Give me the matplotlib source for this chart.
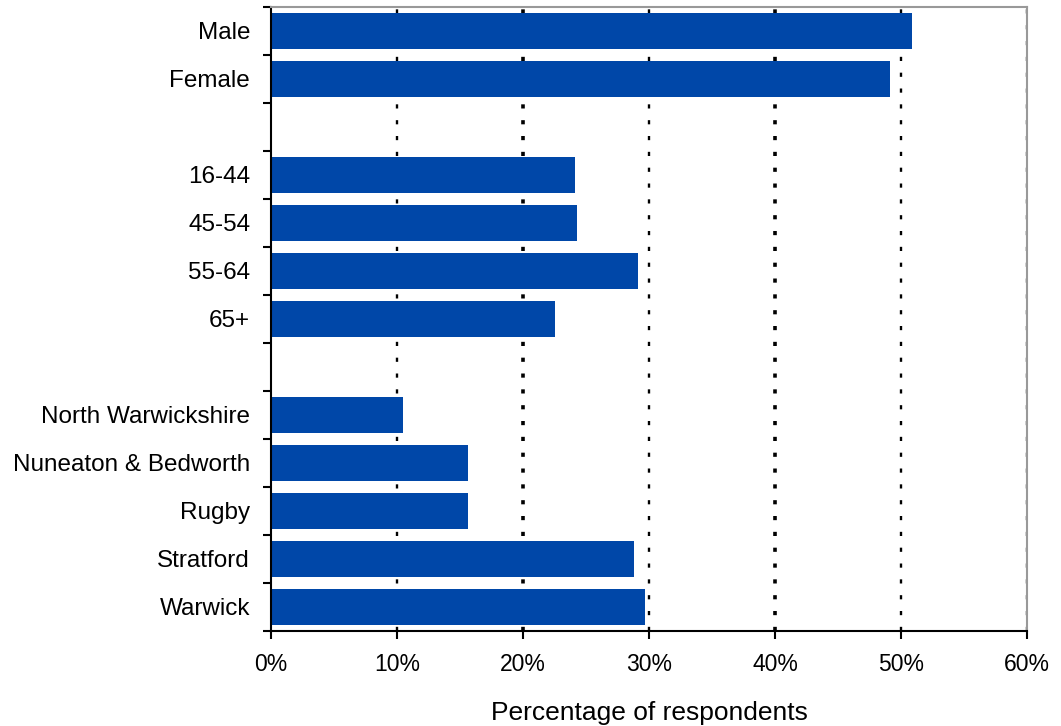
import matplotlib.pyplot as plt
import numpy as np

plt.rcParams['font.family'] = ['Liberation Sans', 'DejaVu Sans']

# Kategorien (leere Strings = Lücken zwischen den Gruppen)
categories = ['Male', 'Female', '', '16-44', '45-54', '55-64', '65+', '',
              'North Warwickshire', 'Nuneaton & Bedworth', 'Rugby',
              'Stratford', 'Warwick']
values = [50.9, 49.1, None, 24.1, 24.3, 29.1, 22.5, None,
          10.5, 15.6, 15.6, 28.8, 29.7]
x_ticks = [0, 10, 20, 30, 40, 50, 60]

fig = plt.figure(figsize=(10.61, 7.26), dpi=100)
ax = fig.add_axes([0.2554, 0.1309, 0.7126, 0.8595])

pos = np.arange(len(categories))
for p, v in zip(pos, values):
    if v is not None:
        ax.barh(p, v, height=0.76, color='#0047a8')

ax.set_xlim(0, 60)
ax.set_ylim(len(categories) - 0.5, -0.5)

ax.set_xticks(x_ticks)
ax.set_xticklabels([f'{t}%' for t in x_ticks], fontsize=16.5)
ax.tick_params(axis='x', direction='out', length=6, width=1.5, pad=10)

# Striche an den Grenzen, Beschriftungen in der Mitte
ax.set_yticks(np.arange(len(categories) + 1) - 0.5)
ax.set_yticklabels([])
ax.tick_params(axis='y', which='major', direction='out', length=6, width=1.5)
ax.set_yticks(pos, minor=True)
ax.set_yticklabels(categories, minor=True, fontsize=17.5)
ax.tick_params(axis='y', which='minor', length=0, pad=15)

# gepunktete Gitterlinien, 20% und 40% etwas kräftiger
for t in x_ticks[1:]:
    lw = 2.6 if t in (20, 40) else 1.7
    ax.axvline(t, color='black', linestyle=(0, (3 / lw, 8.4 / lw)),
               linewidth=lw, zorder=0)

ax.spines['left'].set_linewidth(1.5)
ax.spines['bottom'].set_linewidth(1.5)
ax.spines['top'].set_color('#999999')
ax.spines['right'].set_color('#999999')
ax.spines['top'].set_linewidth(1.5)
ax.spines['right'].set_linewidth(1.5)

ax.set_xlabel('Percentage of respondents', fontsize=19, labelpad=18)

fig.savefig('out.png', dpi=100)
